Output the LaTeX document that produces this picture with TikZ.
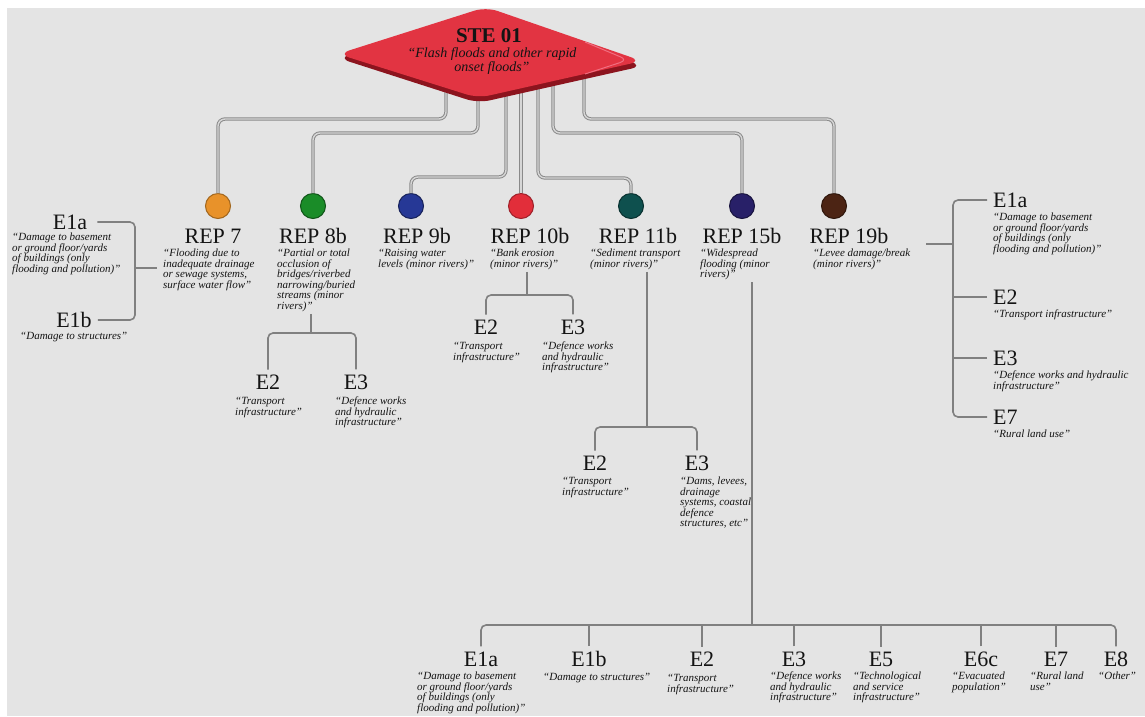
\documentclass[tikz,border=0pt]{standalone}
\usepackage{fontspec}
\setmainfont{Liberation Serif}
\usepackage{xcolor}
\usepackage{tikz}
\usetikzlibrary{arrows,shapes,positioning}

\begin{document}
\begin{tikzpicture}[x=1pt,y=-1pt]
    \definecolor{mybg}{RGB}{228,228,228}
    \definecolor{myred}{RGB}{226,52,66}
    \definecolor{mydarkred}{RGB}{140,20,30}
    \definecolor{mypink}{RGB}{240,110,128}
    \definecolor{mytrunk}{RGB}{138,138,138}
    \definecolor{mytrunkl}{RGB}{214,214,214}
    \definecolor{mytwig}{RGB}{128,128,128}
    \definecolor{mytext}{RGB}{20,20,20}
    \definecolor{myorange}{RGB}{232,146,42}
    \definecolor{mygreen}{RGB}{26,140,40}
    \definecolor{myblue}{RGB}{38,56,150}
    \definecolor{myredb}{RGB}{226,46,58}
    \definecolor{myteal}{RGB}{14,80,78}
    \definecolor{mynavy}{RGB}{40,32,104}
    \definecolor{mybrown}{RGB}{76,36,20}

    \tikzstyle{ball}=[circle,minimum size=25pt,inner sep=0pt,line width=1pt]  % coloured REP dots
    \tikzstyle{lab}=[inner sep=0pt,text=mytext,font=\fontsize{22}{22}\selectfont]  % REP / E codes
    \tikzstyle{descr}=[inner sep=0pt,anchor=north west,align=left,text=mytext,font=\fontsize{11}{10.5}\selectfont\itshape]  % quoted texts
    \tikzstyle{trunk}=[draw=mytrunk,line width=1pt,double=mytrunkl,double distance=1.4pt,rounded corners=7pt]  % lines from STE 01
    \tikzstyle{twig}=[draw=mytwig,line width=1.6pt,rounded corners=5pt]  % thin branch lines

    % background
    \useasboundingbox (0,0) rectangle (1145,716);
    \fill[white] (0,0) rectangle (1145,716);
    \fill[mybg] (7,8) rectangle (1145,716);

    % ends of the trunk lines under STE 01
    \coordinate (s7) at (446,80);
    \coordinate (s8b) at (478,85);
    \coordinate (s9b) at (506,85);
    \coordinate (s10b) at (521,85);
    \coordinate (s11b) at (538,85);
    \coordinate (s15b) at (553,85);
    \coordinate (s19b) at (584,72);

    % REP dots
    \node[ball,fill=myorange,draw=myorange!70!black] (c7) at (218,206) {};
    \node[ball,fill=mygreen,draw=mygreen!60!black] (c8b) at (313,206) {};
    \node[ball,fill=myblue,draw=myblue!60!black] (c9b) at (411,206) {};
    \node[ball,fill=myredb,draw=myredb!70!black] (c10b) at (521,206) {};
    \node[ball,fill=myteal,draw=myteal!60!black] (c11b) at (631,206) {};
    \node[ball,fill=mynavy,draw=mynavy!60!black] (c15b) at (742,206) {};
    \node[ball,fill=mybrown,draw=mybrown!60!black] (c19b) at (834,206) {};

    % trunk lines
    \draw[trunk] (s7) -- ++(0,39) -| (c7.north);
    \draw[trunk] (s8b) -- ++(0,48) -| (c8b.north);
    \draw[trunk] (s9b) -- ++(0,92) -| (c9b.north);
    \draw[trunk] (s10b) -- (c10b.north);
    \draw[trunk] (s11b) -- ++(0,93) -| (c11b.north);
    \draw[trunk] (s15b) -- ++(0,48) -| (c15b.north);
    \draw[trunk] (s19b) -- ++(0,47) -| (c19b.north);

    % STE 01 shape
    \fill[mydarkred,rounded corners=12pt] (338,58) -- (486,11) -- (643,66) -- (478,103) -- cycle;
    \fill[myred,rounded corners=12pt] (338,54) -- (486,7) -- (642,61) -- (478,98) -- cycle;
    \draw[mypink,line width=1pt,rounded corners=8pt] (585,42) -- (628,60) -- (585,74);
    \node[inner sep=0pt,text=mytext,font=\fontsize{21}{21}\selectfont\bfseries] (ste) at (489,36) {STE 01};
    \node[inner sep=0pt,align=center,text=mytext,font=\fontsize{14}{12.5}\selectfont\itshape] (sted) at (492,61) {“Flash floods and other rapid\\onset floods”};

    % REP labels
    \node[lab] (rep7) at (213,236) {REP 7};
    \node[lab] (rep8b) at (313,236) {REP 8b};
    \node[lab] (rep9b) at (417,236) {REP 9b};
    \node[lab] (rep10b) at (530,236) {REP 10b};
    \node[lab] (rep11b) at (638,236) {REP 11b};
    \node[lab] (rep15b) at (742,236) {REP 15b};
    \node[lab] (rep19b) at (849,236) {REP 19b};

    \node[descr] (d7) at (163,249) {“Flooding due to\\inadequate drainage\\or sewage systems,\\surface water flow”};
    \node[descr] (d8b) at (277,249) {“Partial or total\\occlusion of\\bridges/riverbed\\narrowing/buried\\streams (minor\\rivers)”};
    \node[descr] (d9b) at (378,249) {“Raising water\\levels (minor rivers)”};
    \node[descr] (d10b) at (490,249) {“Bank erosion\\(minor rivers)”};
    \node[descr] (d11b) at (590,249) {“Sediment transport\\(minor rivers)”};
    \node[descr] (d15b) at (700,249) {“Widespread\\flooding (minor\\rivers)”};
    \node[descr] (d19b) at (813,249) {“Levee damage/break\\(minor rivers)”};

    % REP 7
    \node[lab] (e1aof7) at (70,222) {E1a};
    \node[descr] (e1aof7d) at (12,233) {“Damage to basement\\or ground floor/yards\\of buildings (only\\flooding and pollution)”};
    \node[lab] (e1bof7) at (74,320) {E1b};
    \node[descr] (e1bof7d) at (20,332) {“Damage to structures”};
    \coordinate (br7) at (135,268);
    \draw[twig] ([xshift=10pt]e1aof7.east) -| (br7) |- ([xshift=6pt]e1bof7.east);
    \draw[twig] (br7) -- ([xshift=-6pt]br7 -| d7.west);

    % REP 8b
    \coordinate (j8b) at (311,333);
    \node[lab] (e2of8b) at (268,382) {E2};
    \node[descr] (e2of8bd) at (235,397) {“Transport\\infrastructure”};
    \node[lab] (e3of8b) at (356,382) {E3};
    \node[descr] (e3of8bd) at (335,397) {“Defence works\\and hydraulic\\infrastructure”};
    \draw[twig,shorten <=2pt] (d8b.south -| j8b) -- (j8b);
    \draw[twig,shorten <=5pt,shorten >=5pt] (e2of8b.north) |- (j8b) -| (e3of8b.north);

    % REP 10b
    \coordinate (j10b) at (527,295);
    \node[lab] (e2of10b) at (486,327) {E2};
    \node[descr] (e2of10bd) at (453,342) {“Transport\\infrastructure”};
    \node[lab] (e3of10b) at (573,327) {E3};
    \node[descr] (e3of10bd) at (542,342) {“Defence works\\and hydraulic\\infrastructure”};
    \draw[twig,shorten <=2pt] (d10b.south -| j10b) -- (j10b);
    \draw[twig,shorten <=5pt,shorten >=5pt] (e2of10b.north) |- (j10b) -| (e3of10b.north);

    % REP 11b
    \coordinate (j11b) at (647,427);
    \node[lab] (e2of11b) at (595,463) {E2};
    \node[descr] (e2of11bd) at (562,477) {“Transport\\infrastructure”};
    \node[lab] (e3of11b) at (697,463) {E3};
    \node[descr] (e3of11bd) at (680,477) {“Dams, levees,\\drainage\\systems, coastal\\defence\\structures, etc”};
    \draw[twig,shorten <=2pt] (d11b.south -| j11b) -- (j11b);
    \draw[twig,shorten <=5pt,shorten >=5pt] (e2of11b.north) |- (j11b) -| (e3of11b.north);

    % REP 15b
    \coordinate (j15b) at (752,625);
    \node[lab] (e1aof15b) at (481,659) {E1a};
    \node[descr] (e1aof15bd) at (417,672) {“Damage to basement\\or ground floor/yards\\of buildings (only\\flooding and pollution)”};
    \node[lab] (e1bof15b) at (589,659) {E1b};
    \node[descr] (e1bof15bd) at (543,673) {“Damage to structures”};
    \node[lab] (e2of15b) at (702,659) {E2};
    \node[descr] (e2of15bd) at (667,674) {“Transport\\infrastructure”};
    \node[lab] (e3of15b) at (794,659) {E3};
    \node[descr] (e3of15bd) at (770,672) {“Defence works\\and hydraulic\\infrastructure”};
    \node[lab] (e5of15b) at (881,659) {E5};
    \node[descr] (e5of15bd) at (853,672) {“Technological\\and service\\infrastructure”};
    \node[lab] (e6cof15b) at (981,659) {E6c};
    \node[descr] (e6cof15bd) at (952,672) {“Evacuated\\population”};
    \node[lab] (e7of15b) at (1056,659) {E7};
    \node[descr] (e7of15bd) at (1030,672) {“Rural land\\use”};
    \node[lab] (e8of15b) at (1116,659) {E8};
    \node[descr] (e8of15bd) at (1098,672) {“Other”};
    \draw[twig,shorten <=2pt] (d15b.south -| j15b) -- (j15b);
    \draw[twig,shorten <=5pt,shorten >=5pt] (e1aof15b.north) |- (j15b) -| (e8of15b.north);
    \draw[twig,shorten <=5pt] (e1bof15b.north) -- (e1bof15b.north |- j15b);
    \draw[twig,shorten <=5pt] (e2of15b.north) -- (e2of15b.north |- j15b);
    \draw[twig,shorten <=5pt] (e3of15b.north) -- (e3of15b.north |- j15b);
    \draw[twig,shorten <=5pt] (e5of15b.north) -- (e5of15b.north |- j15b);
    \draw[twig,shorten <=5pt] (e6cof15b.north) -- (e6cof15b.north |- j15b);
    \draw[twig,shorten <=5pt] (e7of15b.north) -- (e7of15b.north |- j15b);

    % REP 19b
    \coordinate (br19b) at (953,244);
    \node[lab,anchor=west] (e1aof19b) at (993,200) {E1a};
    \node[descr] (e1aof19bd) at (993,213) {“Damage to basement\\or ground floor/yards\\of buildings (only\\flooding and pollution)”};
    \node[lab,anchor=west] (e2of19b) at (993,297) {E2};
    \node[descr] (e2of19bd) at (993,310) {“Transport infrastructure”};
    \node[lab,anchor=west] (e3of19b) at (993,358) {E3};
    \node[descr] (e3of19bd) at (993,371) {“Defence works and hydraulic\\infrastructure”};
    \node[lab,anchor=west] (e7of19b) at (993,417) {E7};
    \node[descr] (e7of19bd) at (993,430) {“Rural land use”};
    \draw[twig] ([xshift=-6pt]e1aof19b.west) -| (br19b) |- ([xshift=-6pt]e7of19b.west);
    \draw[twig] ([xshift=-6pt]e2of19b.west) -- (e2of19b.west -| br19b);
    \draw[twig] ([xshift=-6pt]e3of19b.west) -- (e3of19b.west -| br19b);
    \draw[twig] ([xshift=16pt]d19b.east |- br19b) -- (br19b);
\end{tikzpicture}
\end{document}
